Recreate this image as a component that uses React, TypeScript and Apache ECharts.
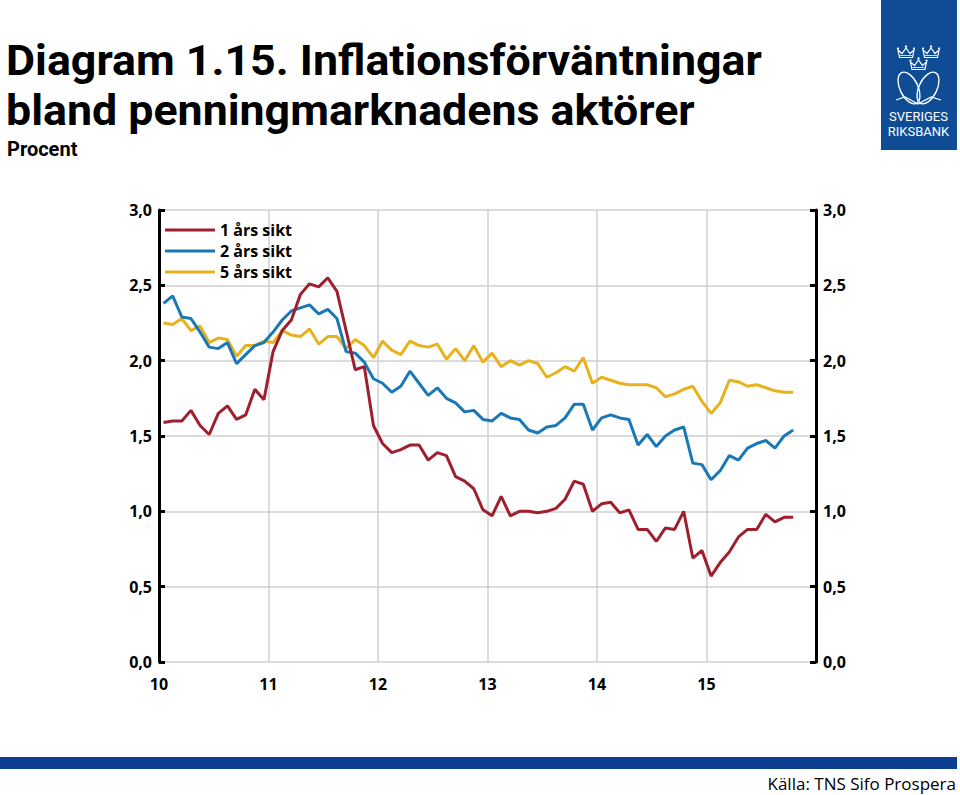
import React, { useEffect, useRef } from 'react';
import * as echarts from 'echarts';

// Monthly observations, January 2010 – October 2015
const startYear = 10; // axis shows two-digit years
const seriesNames = ['1 års sikt', '2 års sikt', '5 års sikt'];
const seriesColors = ['#a01f2e', '#1b78b6', '#e7b21e'];

const oneYear = [
  1.59, 1.60, 1.60, 1.67, 1.57, 1.51, 1.65, 1.70, 1.61, 1.64, 1.81, 1.74,
  2.06, 2.20, 2.27, 2.44, 2.51, 2.49, 2.55, 2.46, 2.20, 1.94, 1.96, 1.57,
  1.45, 1.39, 1.41, 1.44, 1.44, 1.34, 1.39, 1.37, 1.23, 1.20, 1.15, 1.01,
  0.97, 1.10, 0.97, 1.00, 1.00, 0.99, 1.00, 1.02, 1.08, 1.20, 1.18, 1.00,
  1.05, 1.06, 0.99, 1.01, 0.88, 0.88, 0.80, 0.89, 0.88, 1.00, 0.69, 0.74,
  0.57, 0.66, 0.73, 0.83, 0.88, 0.88, 0.98, 0.93, 0.96, 0.96,
];

const twoYear = [
  2.38, 2.43, 2.29, 2.28, 2.19, 2.09, 2.08, 2.12, 1.98, 2.04, 2.10, 2.12,
  2.19, 2.27, 2.33, 2.35, 2.37, 2.31, 2.34, 2.28, 2.06, 2.05, 1.99, 1.88,
  1.85, 1.79, 1.83, 1.93, 1.85, 1.77, 1.82, 1.75, 1.72, 1.66, 1.67, 1.61,
  1.60, 1.65, 1.62, 1.61, 1.54, 1.52, 1.56, 1.57, 1.62, 1.71, 1.71, 1.54,
  1.62, 1.64, 1.62, 1.61, 1.44, 1.51, 1.43, 1.50, 1.54, 1.56, 1.32, 1.31,
  1.21, 1.27, 1.37, 1.34, 1.42, 1.45, 1.47, 1.42, 1.50, 1.54,
];

const fiveYear = [
  2.25, 2.24, 2.28, 2.20, 2.23, 2.12, 2.15, 2.14, 2.03, 2.10, 2.10, 2.13,
  2.12, 2.20, 2.17, 2.16, 2.21, 2.11, 2.16, 2.16, 2.08, 2.14, 2.10, 2.02,
  2.13, 2.07, 2.04, 2.13, 2.10, 2.09, 2.11, 2.01, 2.08, 2.00, 2.10, 1.99,
  2.05, 1.96, 2.00, 1.97, 2.00, 1.98, 1.89, 1.92, 1.96, 1.93, 2.02, 1.85,
  1.89, 1.87, 1.85, 1.84, 1.84, 1.84, 1.82, 1.76, 1.78, 1.81, 1.83, 1.73,
  1.65, 1.72, 1.87, 1.86, 1.83, 1.84, 1.82, 1.80, 1.79, 1.79,
];

const xTickLabels = ['10', '11', '12', '13', '14', '15'];
const yTickLabels = ['0,0', '0,5', '1,0', '1,5', '2,0', '2,5', '3,0'];

const FONT = '"Open Sans", "Noto Sans", sans-serif';
const TITLE_FONT = 'Roboto, "Open Sans", sans-serif';

// month index -> decimal year position (mid-month)
const toPairs = (vals: number[]) =>
  vals.map((v, i) => [startYear + (i + 0.5) / 12, v]);

const crown = (cx: number, cy: number) => ({
  type: 'group',
  children: [
    {
      type: 'polygon',
      shape: {
        points: [
          [cx - 6.5, cy + 4.5],
          [cx - 8, cy - 3],
          [cx - 4, cy + 0.5],
          [cx, cy - 5],
          [cx + 4, cy + 0.5],
          [cx + 8, cy - 3],
          [cx + 6.5, cy + 4.5],
        ],
      },
      style: { fill: 'none', stroke: '#fff', lineWidth: 1.2 },
    },
    {
      type: 'line',
      shape: { x1: cx - 6, y1: cy + 2.5, x2: cx + 6, y2: cy + 2.5 },
      style: { stroke: '#fff', lineWidth: 0.8 },
    },
    { type: 'circle', shape: { cx: cx, cy: cy - 6.5, r: 1.2 }, style: { fill: '#fff' } },
    { type: 'circle', shape: { cx: cx - 8, cy: cy - 4.5, r: 1 }, style: { fill: '#fff' } },
    { type: 'circle', shape: { cx: cx + 8, cy: cy - 4.5, r: 1 }, style: { fill: '#fff' } },
  ],
});

export default function App() {
  const ref = useRef<HTMLDivElement>(null);

  useEffect(() => {
    if (!ref.current) return;
    const chart = echarts.init(ref.current, undefined, { renderer: 'svg' });

    const yAxisCommon = {
      type: 'value',
      min: 0,
      max: 3,
      interval: 0.5,
      axisLine: { show: true, lineStyle: { color: '#000', width: 3 } },
      axisTick: { show: true, inside: true, length: 6, lineStyle: { color: '#000', width: 3 } },
      axisLabel: {
        color: '#000',
        fontSize: 16,
        fontWeight: 'bold',
        fontFamily: FONT,
        margin: 7,
        formatter: (v: number) => yTickLabels[Math.round(v * 2)] ?? '',
      },
    };

    chart.setOption({
      animation: false,
      backgroundColor: '#fff',
      grid: {
        left: 159,
        top: 210,
        width: 657,
        height: 452,
        containLabel: false,
        outerBoundsMode: 'none',
      },
      legend: {
        orient: 'vertical',
        left: 160,
        top: 217,
        icon: 'rect',
        itemWidth: 50,
        itemHeight: 3,
        itemGap: 5,
        data: seriesNames,
        textStyle: {
          color: '#000',
          fontSize: 16,
          fontWeight: 'bold',
          fontFamily: FONT,
          lineHeight: 16,
          padding: [0, 0, 0, 0],
        },
      },
      xAxis: {
        type: 'value',
        min: 10,
        max: 16,
        interval: 1,
        axisLine: { show: false },
        axisTick: { show: false },
        splitLine: { show: true, lineStyle: { color: '#cfcfcf', width: 1.5 } },
        axisLabel: {
          color: '#000',
          fontSize: 16,
          fontWeight: 'bold',
          fontFamily: FONT,
          margin: 14,
          formatter: (v: number) => xTickLabels[Math.round(v) - 10] ?? '',
        },
      },
      yAxis: [
        {
          ...yAxisCommon,
          position: 'left',
          splitLine: { show: true, lineStyle: { color: '#cfcfcf', width: 1.5 } },
        },
        {
          ...yAxisCommon,
          position: 'right',
          splitLine: { show: false },
        },
      ],
      series: [oneYear, twoYear, fiveYear].map((vals, k) => ({
        name: seriesNames[k],
        type: 'line',
        data: toPairs(vals),
        showSymbol: false,
        symbol: 'none',
        color: seriesColors[k],
        lineStyle: { width: 3, color: seriesColors[k] },
        z: 3 - k + 2,
      })),
      graphic: [
        {
          type: 'text',
          x: 6,
          y: 61,
          scaleX: 1.065,
          style: {
            text: 'Diagram 1.15. Inflationsförväntningar',
            font: `bold 42px ${TITLE_FONT}`,
            fill: '#000',
            verticalAlign: 'middle',
          },
        },
        {
          type: 'text',
          x: 6,
          y: 111,
          scaleX: 1.065,
          style: {
            text: 'bland penningmarknadens aktörer',
            font: `bold 42px ${TITLE_FONT}`,
            fill: '#000',
            verticalAlign: 'middle',
          },
        },
        {
          type: 'text',
          x: 7,
          y: 149,
          style: {
            text: 'Procent',
            font: `bold 20px ${TITLE_FONT}`,
            fill: '#000',
            verticalAlign: 'middle',
          },
        },
        // Riksbank logo
        {
          type: 'rect',
          shape: { x: 881, y: 0, width: 76, height: 150 },
          style: { fill: '#0e4c96' },
        },
        crown(906, 53),
        crown(931, 53),
        crown(918.5, 65),
        {
          type: 'ellipse',
          shape: { cx: 0, cy: 0, rx: 9, ry: 17 },
          x: 909,
          y: 88,
          rotation: 0.45,
          style: { fill: 'none', stroke: '#fff', lineWidth: 1.4 },
        },
        {
          type: 'ellipse',
          shape: { cx: 0, cy: 0, rx: 9, ry: 17 },
          x: 928,
          y: 88,
          rotation: -0.45,
          style: { fill: 'none', stroke: '#fff', lineWidth: 1.4 },
        },
        {
          type: 'polyline',
          shape: { points: [[896, 100], [905, 97], [918, 104], [931, 97], [941, 100]] },
          style: { fill: 'none', stroke: '#fff', lineWidth: 1.2 },
        },
        {
          type: 'text',
          x: 918.5,
          y: 116,
          style: {
            text: 'SVERIGES',
            font: '13px "Roboto", sans-serif',
            fill: '#fff',
            align: 'center',
            verticalAlign: 'middle',
          },
        },
        {
          type: 'text',
          x: 918.5,
          y: 131,
          style: {
            text: 'RIKSBANK',
            font: '13px "Roboto", sans-serif',
            fill: '#fff',
            align: 'center',
            verticalAlign: 'middle',
          },
        },
        // footer
        {
          type: 'rect',
          shape: { x: 0, y: 757, width: 957, height: 12 },
          style: { fill: '#0c3f8f' },
        },
        {
          type: 'text',
          x: 956,
          y: 783,
          style: {
            text: 'Källa: TNS Sifo Prospera',
            font: `17px ${FONT}`,
            fill: '#000',
            align: 'right',
            verticalAlign: 'middle',
          },
        },
      ],
    });

    return () => chart.dispose();
  }, []);

  return (
    <div
      ref={ref}
      style={{ position: 'absolute', left: 0, top: 0, width: 960, height: 795 }}
    />
  );
}
